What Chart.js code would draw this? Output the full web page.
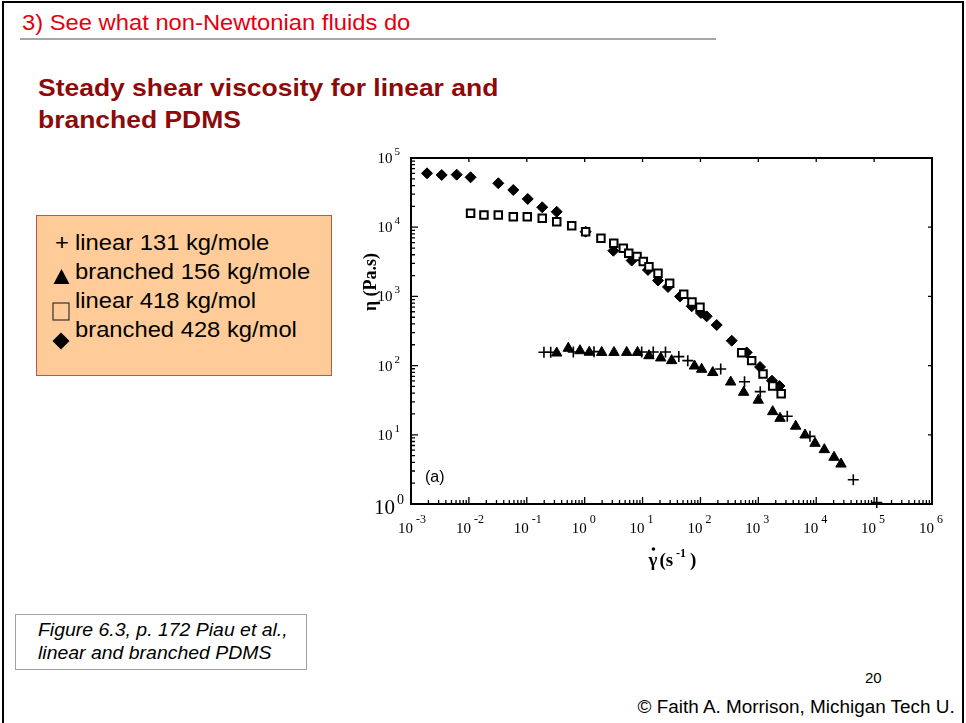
<!DOCTYPE html>
<html>
<head>
<meta charset="utf-8">
<title>Steady shear viscosity for linear and branched PDMS</title>
<script src="https://cdn.jsdelivr.net/npm/chart.js@4.4.1/dist/chart.umd.min.js"></script>
<style>
  html, body { margin: 0; padding: 0; background: #fff; }
  body {
    width: 966px; height: 723px; position: relative; overflow: hidden;
    font-family: "Liberation Sans", Arial, sans-serif;
  }
  .frame { position: absolute; left: 2px; top: 1px; width: 958px; height: 740px; border: 2px solid #000; }
  .wide { transform: scaleX(1.08); transform-origin: left top; }
  #header { position: absolute; left: 22px; top: 10px; font-size: 22px; color: #e3000f; white-space: nowrap; }
  #rule { position: absolute; left: 20px; top: 38px; width: 696px; height: 2px; background: #a6a6a6; }
  #title {
    position: absolute; left: 38px; top: 72px; font-size: 24.5px; font-weight: bold;
    color: #8e0a0a; line-height: 32px; white-space: nowrap;
  }
  #key {
    position: absolute; left: 36px; top: 215px; width: 296px; height: 161px;
    background: #ffcc99; border: 1px solid #c0583c; box-sizing: border-box;
  }
  .row { position: absolute; font-size: 22px; line-height: 24px; white-space: nowrap; color: #000; }
  .sym { position: absolute; }
  #caption {
    position: absolute; left: 15px; top: 614px; width: 292px; height: 56px;
    border: 1px solid #a0a0a0; box-sizing: border-box;
  }
  #caption div { position: absolute; left: 22px; font-size: 18px; font-style: italic; white-space: nowrap; }
  #page { position: absolute; left: 865px; top: 669px; font-size: 15px; }
  #credit {
    position: absolute; right: 11px; top: 697px; font-size: 17.5px; white-space: nowrap;
    transform: scaleX(1.08); transform-origin: right top;
  }
  #plot { position: absolute; left: 340px; top: 140px; }
</style>
</head>
<body>
<div class="frame"></div>
<div id="header" class="wide">3) See what non-Newtonian fluids do</div>
<div id="rule"></div>
<div id="title" class="wide">Steady shear viscosity for linear and<br>branched PDMS</div>

<div id="key">
  <div class="row wide" style="left:18px;top:15px;">+</div>
  <div class="row wide" style="left:38px;top:15px;">linear 131 kg/mole</div>
  <svg class="sym" style="left:16px;top:52px;" width="17" height="17"><polygon points="8.5,1 16.5,16 0.5,16" fill="#000"/></svg>
  <div class="row wide" style="left:38px;top:44px;">branched 156 kg/mole</div>
  <svg class="sym" style="left:15px;top:86px;" width="18" height="19"><rect x="1" y="1" width="16" height="17" fill="none" stroke="#333" stroke-width="1.2"/></svg>
  <div class="row wide" style="left:38px;top:73px;">linear 418 kg/mol</div>
  <svg class="sym" style="left:15px;top:116px;" width="18" height="18"><polygon points="9,0.5 17.5,9 9,17.5 0.5,9" fill="#000"/></svg>
  <div class="row wide" style="left:38px;top:102px;">branched 428 kg/mol</div>
</div>

<canvas id="plot" width="620" height="460"></canvas>

<div id="caption">
  <div class="wide" style="top:5px;">Figure 6.3, p. 172 Piau et al.,</div>
  <div class="wide" style="top:28px;">linear and branched PDMS</div>
</div>
<div id="page">20</div>
<div id="credit">© Faith A. Morrison, Michigan Tech U.</div>

<script>
// shear rate (1/s) and viscosity (Pa.s) for each sample
const linear131Rate = [0.198, 0.259, 0.637, 1.45, 9.66, 15.3, 24.9, 42.3, 60.4, 224, 577, 1080, 3160, 7800, 43700, 111000];
const linear131Eta = [156, 156, 157, 159, 157, 157, 157, 135, 118, 89.3, 58.5, 42.0, 18.5, 9.5, 2.24, 1.05];

const branched156Rate = [0.329, 0.521, 0.830, 1.20, 1.97, 3.21, 5.32, 8.18, 12.9, 20.6, 31.8, 78.9, 105, 163, 333, 558, 998, 1770, 2370, 4420, 6400, 9530, 13800, 20300, 26800];
const branched156Eta = [152, 178, 164, 156, 155, 155, 155, 155, 139, 129, 118, 98.6, 88.5, 79.4, 57.9, 41.1, 31.6, 21.6, 17.3, 13.3, 9.93, 7.53, 6.10, 4.73, 3.78];

const linear418Rate = [0.0107, 0.0182, 0.0322, 0.0585, 0.102, 0.185, 0.329, 0.597, 1.04, 1.91, 3.18, 4.65, 5.77, 8.02, 10.3, 12.9, 18.5, 29.4, 51.4, 71.4, 98.2, 516, 767, 1205, 1770, 2480];
const linear418Eta = [15900, 15000, 15000, 14200, 14200, 13500, 12000, 10500, 8610, 6920, 5870, 4980, 4210, 3780, 3200, 2690, 2160, 1550, 1070, 830, 695, 153, 118, 75.7, 50.7, 39.1];

const branched428Rate = [0.00189, 0.00339, 0.00615, 0.0107, 0.0322, 0.0585, 0.104, 0.185, 0.329, 1.04, 3.13, 6.49, 12.4, 18.5, 27.5, 44.4, 70.6, 102, 128, 191, 347, 630, 1070, 1720, 2320];
const branched428Eta = [60100, 56800, 57400, 52600, 43100, 34500, 25600, 19400, 16700, 8610, 4570, 3300, 2410, 1700, 1370, 998, 719, 575, 515, 386, 229, 155, 95.5, 60.5, 50.7];

// axis decades
const xDecades = [-3, -2, -1, 0, 1, 2, 3, 4, 5, 6];
const yDecades = [0, 1, 2, 3, 4, 5];

function toPoints(xs, ys) {
  return xs.map((x, i) => ({ x: x, y: ys[i] }));
}

const serif = '"Liberation Serif", "Times New Roman", serif';

// frame, inward ticks, power-of-ten labels and axis titles
const axisDecor = {
  id: "axisDecor",
  beforeDatasetsDraw(chart) {
    const ctx = chart.ctx;
    const { left, right, top, bottom } = chart.chartArea;
    const xs = chart.scales.x;
    const ys = chart.scales.y;
    ctx.save();
    ctx.strokeStyle = "#000";
    ctx.lineWidth = 2;
    ctx.strokeRect(left, top, right - left, bottom - top);

    ctx.lineWidth = 1.3;
    ctx.beginPath();
    xDecades.forEach((e) => {
      for (let m = 1; m <= 9; m++) {
        if (e === 6 && m > 1) break;
        const px = xs.getPixelForValue(m * Math.pow(10, e));
        const len = m === 1 ? 7 : 4;
        ctx.moveTo(px, bottom);
        ctx.lineTo(px, bottom - len);
        if (m === 1) {
          ctx.moveTo(px, top);
          ctx.lineTo(px, top + 4);
        }
      }
    });
    yDecades.forEach((e) => {
      for (let m = 1; m <= 9; m++) {
        if (e === 5 && m > 1) break;
        const py = ys.getPixelForValue(m * Math.pow(10, e));
        const len = m === 1 ? 7 : 4;
        ctx.moveTo(left, py);
        ctx.lineTo(left + len, py);
        if (m === 1) {
          ctx.moveTo(right, py);
          ctx.lineTo(right - 4, py);
        }
      }
    });
    ctx.stroke();

    ctx.fillStyle = "#000";
    // x tick labels
    xDecades.forEach((e) => {
      const px = xs.getPixelForValue(Math.pow(10, e));
      ctx.font = "15px " + serif;
      ctx.textAlign = "right";
      ctx.fillText("10", px + 2, bottom + 29);
      ctx.font = "12px " + serif;
      ctx.textAlign = "left";
      ctx.fillText(e < 0 ? "-" + Math.abs(e) : String(e), px + 5, bottom + 19);
    });
    // y tick labels
    yDecades.forEach((e) => {
      const py = ys.getPixelForValue(Math.pow(10, e));
      const big = e === 0;
      ctx.font = (big ? "14px " : "11px ") + serif;
      ctx.textAlign = "right";
      const expRight = left - (big ? 7 : 11);
      ctx.fillText(String(e), expRight, py - (big ? 0 : 3));
      const w = ctx.measureText(String(e)).width;
      ctx.font = (big ? "21px " : "15px ") + serif;
      ctx.fillText("10", expRight - w - 2, py + (big ? 10 : 5));
    });

    // y title
    ctx.save();
    ctx.translate(left - 41, top + 124);
    ctx.rotate(-Math.PI / 2);
    ctx.textAlign = "center";
    ctx.font = "bold 18px " + serif;
    ctx.fillText("\u03b7 (Pa.s)", 0, 6);
    ctx.restore();

    // x title: gamma-dot (s^-1)
    const tx = (left + right) / 2 + 5;
    const ty = bottom + 62;
    ctx.textAlign = "left";
    ctx.font = "bold 19px " + serif;
    const gw = ctx.measureText("\u03b3").width;
    const x0 = tx - 28;
    ctx.fillText("\u03b3", x0, ty);
    ctx.beginPath();
    ctx.arc(x0 + gw / 2 + 0.5, ty - 17, 1.8, 0, Math.PI * 2);
    ctx.fill();
    ctx.fillText("(s", x0 + gw + 2, ty);
    const sw = ctx.measureText("(s").width;
    ctx.font = "bold 12px " + serif;
    ctx.fillText("-1", x0 + gw + 2 + sw + 3, ty - 9);
    const ew = ctx.measureText("-1").width;
    ctx.font = "bold 19px " + serif;
    ctx.fillText(")", x0 + gw + 2 + sw + ew + 7, ty);

    // panel label
    ctx.font = '16px "Liberation Sans", Arial, sans-serif';
    ctx.fillText("(a)", left + 14, bottom - 22);
    ctx.restore();
  },
};

new Chart(document.querySelector("#plot").getContext("2d"), {
  type: "scatter",
  data: {
    datasets: [
      {
        label: "linear 131 kg/mole",
        data: toPoints(linear131Rate, linear131Eta),
        pointStyle: "cross",
        pointRadius: 5.5,
        borderColor: "#000",
        backgroundColor: "#000",
        borderWidth: 1.6,
        clip: false,
      },
      {
        label: "branched 156 kg/mole",
        data: toPoints(branched156Rate, branched156Eta),
        pointStyle: "triangle",
        pointRadius: 6,
        borderColor: "#000",
        backgroundColor: "#000",
        borderWidth: 1,
        clip: false,
      },
      {
        label: "linear 418 kg/mol",
        data: toPoints(linear418Rate, linear418Eta),
        pointStyle: "rect",
        pointRadius: 5.3,
        borderColor: "#000",
        backgroundColor: "#fff",
        borderWidth: 2,
        clip: false,
      },
      {
        label: "branched 428 kg/mol",
        data: toPoints(branched428Rate, branched428Eta),
        pointStyle: "rectRot",
        pointRadius: 5.5,
        borderColor: "#000",
        backgroundColor: "#000",
        borderWidth: 1,
        clip: false,
      },
    ],
  },
  options: {
    responsive: false,
    animation: false,
    layout: { padding: { left: 71, top: 18, right: 28, bottom: 96 } },
    plugins: { legend: { display: false }, tooltip: { enabled: false } },
    scales: {
      x: { type: "logarithmic", min: 1e-3, max: 1e6, display: false },
      y: { type: "logarithmic", min: 1, max: 1e5, display: false },
    },
  },
  plugins: [axisDecor],
});
</script>
</body>
</html>
